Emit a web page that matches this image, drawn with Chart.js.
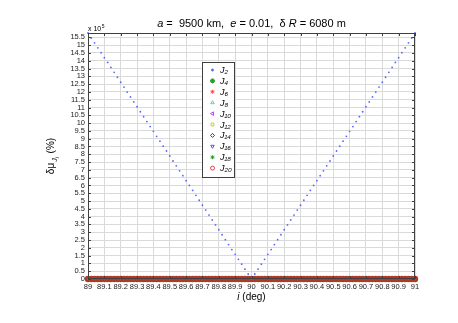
<!DOCTYPE html>
<html>
<head>
<meta charset="utf-8">
<script src="https://cdn.jsdelivr.net/npm/chart.js@4"></script>
<style>
  html, body { margin: 0; padding: 0; background: #fff; }
  #wrap { width: 458px; height: 323px; position: relative; }
</style>
</head>
<body>
<div id="wrap"><canvas id="chart" width="458" height="323"></canvas></div>
<script>
// inclination (deg)
const incl = [
  89.00, 89.02, 89.04, 89.06, 89.08, 89.10, 89.12, 89.14, 89.16, 89.18,
  89.20, 89.22, 89.24, 89.26, 89.28, 89.30, 89.32, 89.34, 89.36, 89.38,
  89.40, 89.42, 89.44, 89.46, 89.48, 89.50, 89.52, 89.54, 89.56, 89.58,
  89.60, 89.62, 89.64, 89.66, 89.68, 89.70, 89.72, 89.74, 89.76, 89.78,
  89.80, 89.82, 89.84, 89.86, 89.88, 89.90, 89.92, 89.94, 89.96, 89.98,
  90.00, 90.02, 90.04, 90.06, 90.08, 90.10, 90.12, 90.14, 90.16, 90.18,
  90.20, 90.22, 90.24, 90.26, 90.28, 90.30, 90.32, 90.34, 90.36, 90.38,
  90.40, 90.42, 90.44, 90.46, 90.48, 90.50, 90.52, 90.54, 90.56, 90.58,
  90.60, 90.62, 90.64, 90.66, 90.68, 90.70, 90.72, 90.74, 90.76, 90.78,
  90.80, 90.82, 90.84, 90.86, 90.88, 90.90, 90.92, 90.94, 90.96, 90.98,
  91.00
];
// d mu J2 (x 10^5 %)
const muJ2 = [
  15.78, 15.46, 15.15, 14.83, 14.52, 14.20, 13.89, 13.57, 13.26, 12.94,
  12.62, 12.31, 11.99, 11.68, 11.36, 11.05, 10.73, 10.41, 10.10, 9.78,
  9.47, 9.15, 8.84, 8.52, 8.21, 7.89, 7.57, 7.26, 6.94, 6.63,
  6.31, 6.00, 5.68, 5.37, 5.05, 4.73, 4.42, 4.10, 3.79, 3.47,
  3.16, 2.84, 2.52, 2.21, 1.89, 1.58, 1.26, 0.95, 0.63, 0.32,
  0.00, 0.32, 0.63, 0.95, 1.26, 1.58, 1.89, 2.21, 2.52, 2.84,
  3.16, 3.47, 3.79, 4.10, 4.42, 4.73, 5.05, 5.37, 5.68, 6.00,
  6.31, 6.63, 6.94, 7.26, 7.57, 7.89, 8.21, 8.52, 8.84, 9.15,
  9.47, 9.78, 10.10, 10.41, 10.73, 11.05, 11.36, 11.68, 11.99, 12.31,
  12.62, 12.94, 13.26, 13.57, 13.89, 14.20, 14.52, 14.83, 15.15, 15.46,
  15.78
];
// higher harmonics all sit on the axis at this scale
const muHigher = [
  0, 0, 0, 0, 0, 0, 0, 0, 0, 0, 0, 0, 0, 0, 0, 0, 0, 0, 0, 0,
  0, 0, 0, 0, 0, 0, 0, 0, 0, 0, 0, 0, 0, 0, 0, 0, 0, 0, 0, 0,
  0, 0, 0, 0, 0, 0, 0, 0, 0, 0, 0, 0, 0, 0, 0, 0, 0, 0, 0, 0,
  0, 0, 0, 0, 0, 0, 0, 0, 0, 0, 0, 0, 0, 0, 0, 0, 0, 0, 0, 0,
  0, 0, 0, 0, 0, 0, 0, 0, 0, 0, 0, 0, 0, 0, 0, 0, 0, 0, 0, 0,
  0
];

const seriesNames = ['J₂', 'J₄', 'J₆', 'J₈', 'J₁₀', 'J₁₂', 'J₁₄', 'J₁₆', 'J₁₈', 'J₂₀'];
const seriesColors = ['#5566ff', '#2aa02a', '#ff5050', '#40d8d8', '#c040ff', '#c8c830', '#404040', '#4455ff', '#2aa02a', '#e04040'];
const seriesMarkers = ['circle', 'circle', 'star', 'triangle', 'triangle', 'rect', 'rectRot', 'triangle', 'star', 'circle'];
const markerRotation = [0, 0, 0, 0, -90, 0, 0, 180, 0, 0];

const xTicks = [89, 89.1, 89.2, 89.3, 89.4, 89.5, 89.6, 89.7, 89.8, 89.9, 90,
  90.1, 90.2, 90.3, 90.4, 90.5, 90.6, 90.7, 90.8, 90.9, 91];
const yTicks = [0, 0.5, 1, 1.5, 2, 2.5, 3, 3.5, 4, 4.5, 5, 5.5, 6, 6.5, 7, 7.5,
  8, 8.5, 9, 9.5, 10, 10.5, 11, 11.5, 12, 12.5, 13, 13.5, 14, 14.5, 15, 15.5];

const FONT = '"Liberation Sans", Arial, sans-serif';
const NARROW = '"Liberation Sans Narrow", "Liberation Sans", Arial, sans-serif';

function pts(ys) {
  return incl.map((x, k) => ({x: x, y: ys[k]}));
}

function fillFor(k) {
  return (k === 0 || k === 1 || k === 8) ? seriesColors[k] : 'rgba(0,0,0,0)';
}

let datasets = seriesNames.map((name, k) => ({
  label: name,
  data: pts(k === 0 ? muJ2 : muHigher),
  showLine: false,
  pointStyle: seriesMarkers[k],
  rotation: markerRotation[k],
  pointRadius: k === 0 ? 0.9 : 2.2,
  borderWidth: k === 0 ? 0 : (k === 9 ? 2 : 1),
  borderColor: k === 9 ? '#b03a26' : seriesColors[k],
  backgroundColor: fillFor(k),
  order: k === 0 ? 0 : 10 - k,
  clip: false
}));

// MATLAB-ish decorations: title, axis labels, inward ticks, frame, legend box
const decorPlugin = {
  id: 'decor',
  afterDraw(chart) {
    const ctx = chart.ctx;
    const a = chart.chartArea;
    const xs = chart.scales.x, ys = chart.scales.y;
    ctx.save();

    // frame + inward ticks
    ctx.strokeStyle = '#404040';
    ctx.lineWidth = 1;
    ctx.strokeRect(a.left + 0.5, a.top + 0.5, a.right - a.left - 1, a.bottom - a.top - 1);
    ctx.beginPath();
    xTicks.forEach(v => {
      let px = Math.round(xs.getPixelForValue(v)) + 0.5;
      ctx.moveTo(px, a.bottom); ctx.lineTo(px, a.bottom - 3);
      ctx.moveTo(px, a.top); ctx.lineTo(px, a.top + 3);
    });
    yTicks.forEach(v => {
      let py = Math.round(ys.getPixelForValue(v)) + 0.5;
      ctx.moveTo(a.left, py); ctx.lineTo(a.left + 3, py);
      ctx.moveTo(a.right, py); ctx.lineTo(a.right - 3, py);
    });
    ctx.stroke();

    // title with italic symbols
    const parts = [
      ['a', true], [' =  9500 km,  ', false], ['e', true],
      [' = 0.01,  δ ', false], ['R', true], [' = 6080 m', false]
    ];
    ctx.fillStyle = '#000';
    ctx.textBaseline = 'alphabetic';
    let w = 0;
    parts.forEach(p => { ctx.font = (p[1] ? 'italic ' : '') + '11px ' + FONT; w += ctx.measureText(p[0]).width; });
    let tx = (a.left + a.right) / 2 - w / 2;
    parts.forEach(p => {
      ctx.font = (p[1] ? 'italic ' : '') + '11px ' + FONT;
      ctx.fillText(p[0], tx, 27);
      tx += ctx.measureText(p[0]).width;
    });

    // x 10^5 multiplier
    ctx.font = '7px ' + FONT;
    ctx.fillText('x 10', a.left, a.top - 2);
    let mw = ctx.measureText('x 10').width;
    ctx.font = '5px ' + FONT;
    ctx.fillText('5', a.left + mw + 0.5, a.top - 5);

    // x label
    ctx.font = 'italic 10px ' + FONT;
    let iw = ctx.measureText('i').width;
    ctx.font = '10px ' + FONT;
    let rest = ' (deg)';
    let rw = ctx.measureText(rest).width;
    let lx = (a.left + a.right) / 2 - (iw + rw) / 2;
    ctx.font = 'italic 10px ' + FONT;
    ctx.fillText('i', lx, 300);
    ctx.font = '10px ' + FONT;
    ctx.fillText(rest, lx + iw, 300);

    // y label (rotated)
    ctx.save();
    ctx.translate(54, (a.top + a.bottom) / 2);
    ctx.rotate(-Math.PI / 2);
    ctx.font = '10px ' + FONT;
    let s1 = 'δμ';
    let w1 = ctx.measureText(s1).width;
    ctx.font = 'italic 7px ' + FONT;
    let w2 = ctx.measureText('J').width;
    ctx.font = 'italic 5px ' + FONT;
    let w3 = ctx.measureText('i').width;
    ctx.font = '10px ' + FONT;
    let s4 = ' (%)';
    let w4 = ctx.measureText(s4).width;
    let yx = -(w1 + w2 + w3 + w4 + 2) / 2;
    ctx.fillText(s1, yx, 0); yx += w1 + 1;
    ctx.font = 'italic 7px ' + FONT;
    ctx.fillText('J', yx, 3); yx += w2;
    ctx.font = 'italic 5px ' + FONT;
    ctx.fillText('i', yx, 5); yx += w3 + 1;
    ctx.font = '10px ' + FONT;
    ctx.fillText(s4, yx, 0);
    ctx.restore();

    // legend box
    const lg = {left: 202, top: 62, right: 234, bottom: 177};
    ctx.fillStyle = '#fff';
    ctx.fillRect(lg.left, lg.top, lg.right - lg.left, lg.bottom - lg.top);
    ctx.strokeStyle = '#404040';
    ctx.lineWidth = 1;
    ctx.strokeRect(lg.left + 0.5, lg.top + 0.5, lg.right - lg.left, lg.bottom - lg.top);
    const step = (lg.bottom - lg.top - 6) / seriesNames.length;
    seriesNames.forEach((name, k) => {
      let cy = lg.top + 8 + k * step;
      ctx.strokeStyle = seriesColors[k];
      ctx.fillStyle = fillFor(k);
      ctx.lineWidth = 1;
      Chart.helpers.drawPoint(ctx, {
        pointStyle: seriesMarkers[k],
        rotation: markerRotation[k],
        radius: k === 0 ? 1 : 2,
        borderWidth: 1
      }, 212.5, cy);
      ctx.fillStyle = '#000';
      ctx.font = 'italic 9px ' + FONT;
      ctx.fillText(name, 220, cy + 3);
    });

    ctx.restore();
  }
};

new Chart(document.getElementById('chart'), {
  type: 'scatter',
  data: {datasets: datasets},
  options: {
    responsive: false,
    animation: false,
    events: [],
    layout: {padding: {left: 0, right: 43, top: 33, bottom: 0}},
    plugins: {legend: {display: false}, tooltip: {enabled: false}, title: {display: false}},
    scales: {
      x: {
        type: 'linear', min: 89, max: 91,
        afterBuildTicks: s => { s.ticks = xTicks.map(v => ({value: v})); },
        afterFit: s => { s.height = 44; },
        grid: {color: '#dadada', borderDash: [1, 3], drawTicks: false, lineWidth: 1},
        border: {display: false},
        ticks: {
          color: '#222', padding: 3, maxRotation: 0, autoSkip: false,
          font: {family: NARROW, size: 7.5},
          callback: v => String(Math.round(v * 10) / 10)
        }
      },
      y: {
        type: 'linear', min: 0, max: 15.78,
        afterBuildTicks: s => { s.ticks = yTicks.map(v => ({value: v})); },
        afterFit: s => { s.width = 88; },
        grid: {color: '#dadada', borderDash: [1, 3], drawTicks: false, lineWidth: 1},
        border: {display: false},
        ticks: {
          color: '#222', padding: 3, autoSkip: false,
          font: {family: NARROW, size: 7.5},
          callback: v => String(v)
        }
      }
    }
  },
  plugins: [decorPlugin]
});
</script>
</body>
</html>
